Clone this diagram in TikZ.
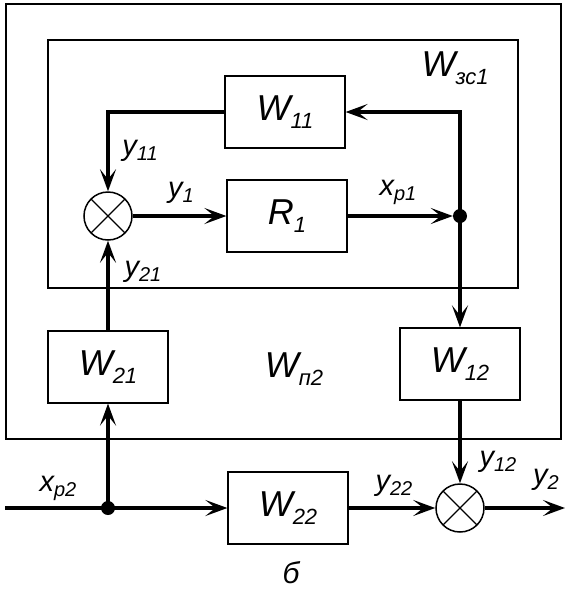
\documentclass[tikz,border=0pt]{standalone}
\usepackage{fontspec}
\setmainfont{Liberation Sans}
\usetikzlibrary{arrows.meta}
\newcommand{\BigLab}[2]{{\fontsize{36}{36}\selectfont\itshape #1}{\fontsize{22}{22}\selectfont\itshape\raisebox{-8pt}{#2}}}
\newcommand{\SmLab}[2]{{\fontsize{29}{29}\selectfont\itshape #1}{\fontsize{20}{20}\selectfont\itshape\raisebox{-5pt}{#2}}}
\begin{document}
\begin{tikzpicture}[x=1pt,y=-1pt,
  blk/.style={draw,line width=1.2pt,minimum width=120pt,minimum height=72pt,inner sep=0pt},
  frame/.style={draw,line width=1.5pt},
  sumn/.style={circle,draw,line width=1.5pt,minimum size=48pt,inner sep=0pt,
    path picture={\draw[line width=1.3pt]
      (path picture bounding box.north west) -- (path picture bounding box.south east)
      (path picture bounding box.north east) -- (path picture bounding box.south west);}},
  dotn/.style={circle,fill,inner sep=0pt,minimum size=14pt},
  sig/.style={line width=3.6pt},
  arr/.style={sig,-{Stealth[length=22pt,width=16pt,inset=10pt]}},
  lbl/.style={inner sep=0pt}]
\useasboundingbox (0,0) rectangle (570,590);
% frames
\draw[frame] (6,4) rectangle (561,439);
\draw[frame] (48,40) rectangle (518,288);
% blocks
\node[blk] (W11) at (285,112) {\BigLab{W}{11}};
\node[blk] (R1) at (287,216) {\BigLab{R}{1}};
\node[blk] (W21) at (108,367) {\BigLab{W}{21}};
\node[blk] (W12) at (460,364) {\BigLab{W}{12}};
\node[blk] (W22) at (288,508) {\BigLab{W}{22}};
\node[sumn] (S1) at (108,216) {};
\node[sumn] (S2) at (460,508) {};
\node[dotn] (D1) at (460,216) {};
\node[dotn] (D2) at (108,508) {};
\coordinate (C1) at (460,112);
\coordinate (IN) at (5,508);
\coordinate (OUT) at (565,508);
% connectors
\draw[arr] (W11.west) -| (S1.north);
\draw[arr] (S1.east) -- (R1.west);
\draw[arr] (R1.east) -- (D1.west);
\draw[arr] (D1.center) -- (C1) -- (W11.east);
\draw[arr] (D1.center) -- (W12.north);
\draw[arr] (W21.north) -- (S1.south);
\draw[sig] (IN) -- (D2.center);
\draw[arr] (D2.center) -- (W21.south);
\draw[arr] (D2.center) -- (W22.west);
\draw[arr] (W22.east) -- (S2.west);
\draw[arr] (W12.south) -- (S2.north);
\draw[arr] (S2.east) -- (OUT);
% labels
\node[lbl] (Lzs) at (455,68) {\BigLab{W}{зс1}};
\node[lbl] (Lp2) at (294,369) {\BigLab{W}{п2}};
\node[lbl] (Ly11) at (140,151) {\SmLab{y}{11}};
\node[lbl] (Ly1) at (181,193) {\SmLab{y}{1}};
\node[lbl] (Lxp1) at (398,192) {\SmLab{x}{р1}};
\node[lbl] (Ly21) at (143,272) {\SmLab{y}{21}};
\node[lbl] (Lxp2) at (58,488) {\SmLab{x}{р2}};
\node[lbl] (Ly22) at (394,486) {\SmLab{y}{22}};
\node[lbl] (Ly12) at (498,462) {\SmLab{y}{12}};
\node[lbl] (Ly2) at (546,480) {\SmLab{y}{2}};
\node[lbl] (Lb) at (291,573) {{\fontsize{30}{30}\selectfont\itshape б}};
\end{tikzpicture}
\end{document}
